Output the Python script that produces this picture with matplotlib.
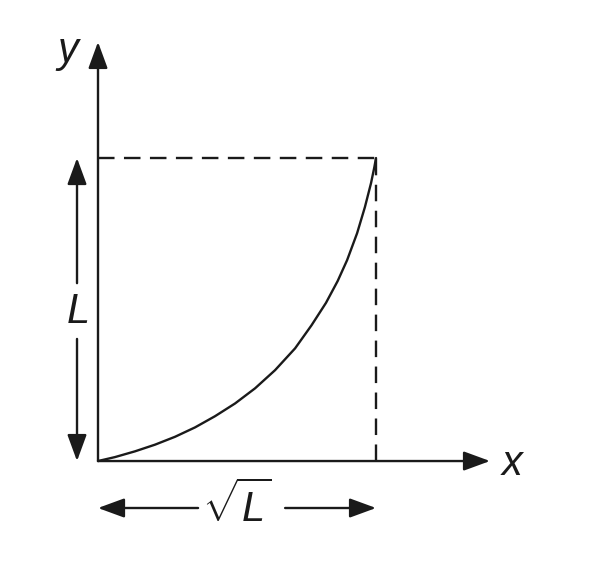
import matplotlib
matplotlib.use("Agg")
import matplotlib.pyplot as plt

plt.rcParams["mathtext.fontset"] = "custom"
plt.rcParams["mathtext.it"] = "Liberation Sans:italic"
plt.rcParams["mathtext.rm"] = "Liberation Sans"

# curve (x in units of sqrt(L), y in units of L)
curve_x = [0.0, 0.061, 0.133, 0.205, 0.277, 0.349, 0.421, 0.493, 0.565, 0.637,
           0.709, 0.768, 0.820, 0.862, 0.896, 0.932, 0.960, 0.982, 0.994, 1.0]
curve_y = [0.0, 0.013, 0.032, 0.054, 0.080, 0.111, 0.148, 0.190, 0.240, 0.300,
           0.372, 0.448, 0.522, 0.594, 0.663, 0.752, 0.838, 0.917, 0.970, 1.0]

x_end = 1.0   # sqrt(L)
y_end = 1.0   # L
x_axis_len = 1.41
y_axis_len = 1.383

ink = "#1a1a1a"
lw = 1.7

fig = plt.figure(figsize=(6.09, 5.68), dpi=100)
ax = fig.add_axes([0, 0, 1, 1])
ax.set_xlim(-0.3525, 1.838)
ax.set_ylim(-0.353, 1.5215)
ax.axis("off")


def arrow(ax, start, end):
    ax.annotate("", xy=end, xytext=start,
                arrowprops=dict(arrowstyle="-|>,head_length=0.9,head_width=0.33",
                                mutation_scale=18, color=ink, lw=lw,
                                shrinkA=0, shrinkB=0))


# axes
arrow(ax, (0, 0), (x_axis_len, 0))
arrow(ax, (0, 0), (0, y_axis_len))

# dashed guide lines
dash = (0, (7, 4))
ax.plot([0, x_end], [y_end, y_end], color=ink, lw=lw, linestyle=dash)
ax.plot([x_end, x_end], [0, y_end], color=ink, lw=lw, linestyle=dash)

# the curve
ax.plot(curve_x, curve_y, color=ink, lw=lw, solid_capstyle="round",
        solid_joinstyle="round")

# L dimension on the left
lx = -0.0755
arrow(ax, (lx, 0.587), (lx, y_end))
arrow(ax, (lx, 0.403), (lx, 0))
ax.text(-0.072, 0.455, "L", fontsize=30, family="Liberation Sans", style="italic",
        ha="center", va="baseline", color=ink)

# sqrt(L) dimension below
by = -0.155
arrow(ax, (0.36, by), (0, by))
arrow(ax, (0.673, by), (x_end, by))
ax.text(0.5, -0.201, r"$\sqrt{L}$", fontsize=30, ha="center", va="baseline", color=ink)

# axis labels
ax.text(1.489, -0.046, "x", fontsize=30, family="Liberation Sans", style="italic",
        ha="center", va="baseline", color=ink)
ax.text(-0.108, 1.317, "y", fontsize=30, family="Liberation Sans", style="italic",
        ha="center", va="baseline", color=ink)

fig.savefig("out.png", dpi=100)
